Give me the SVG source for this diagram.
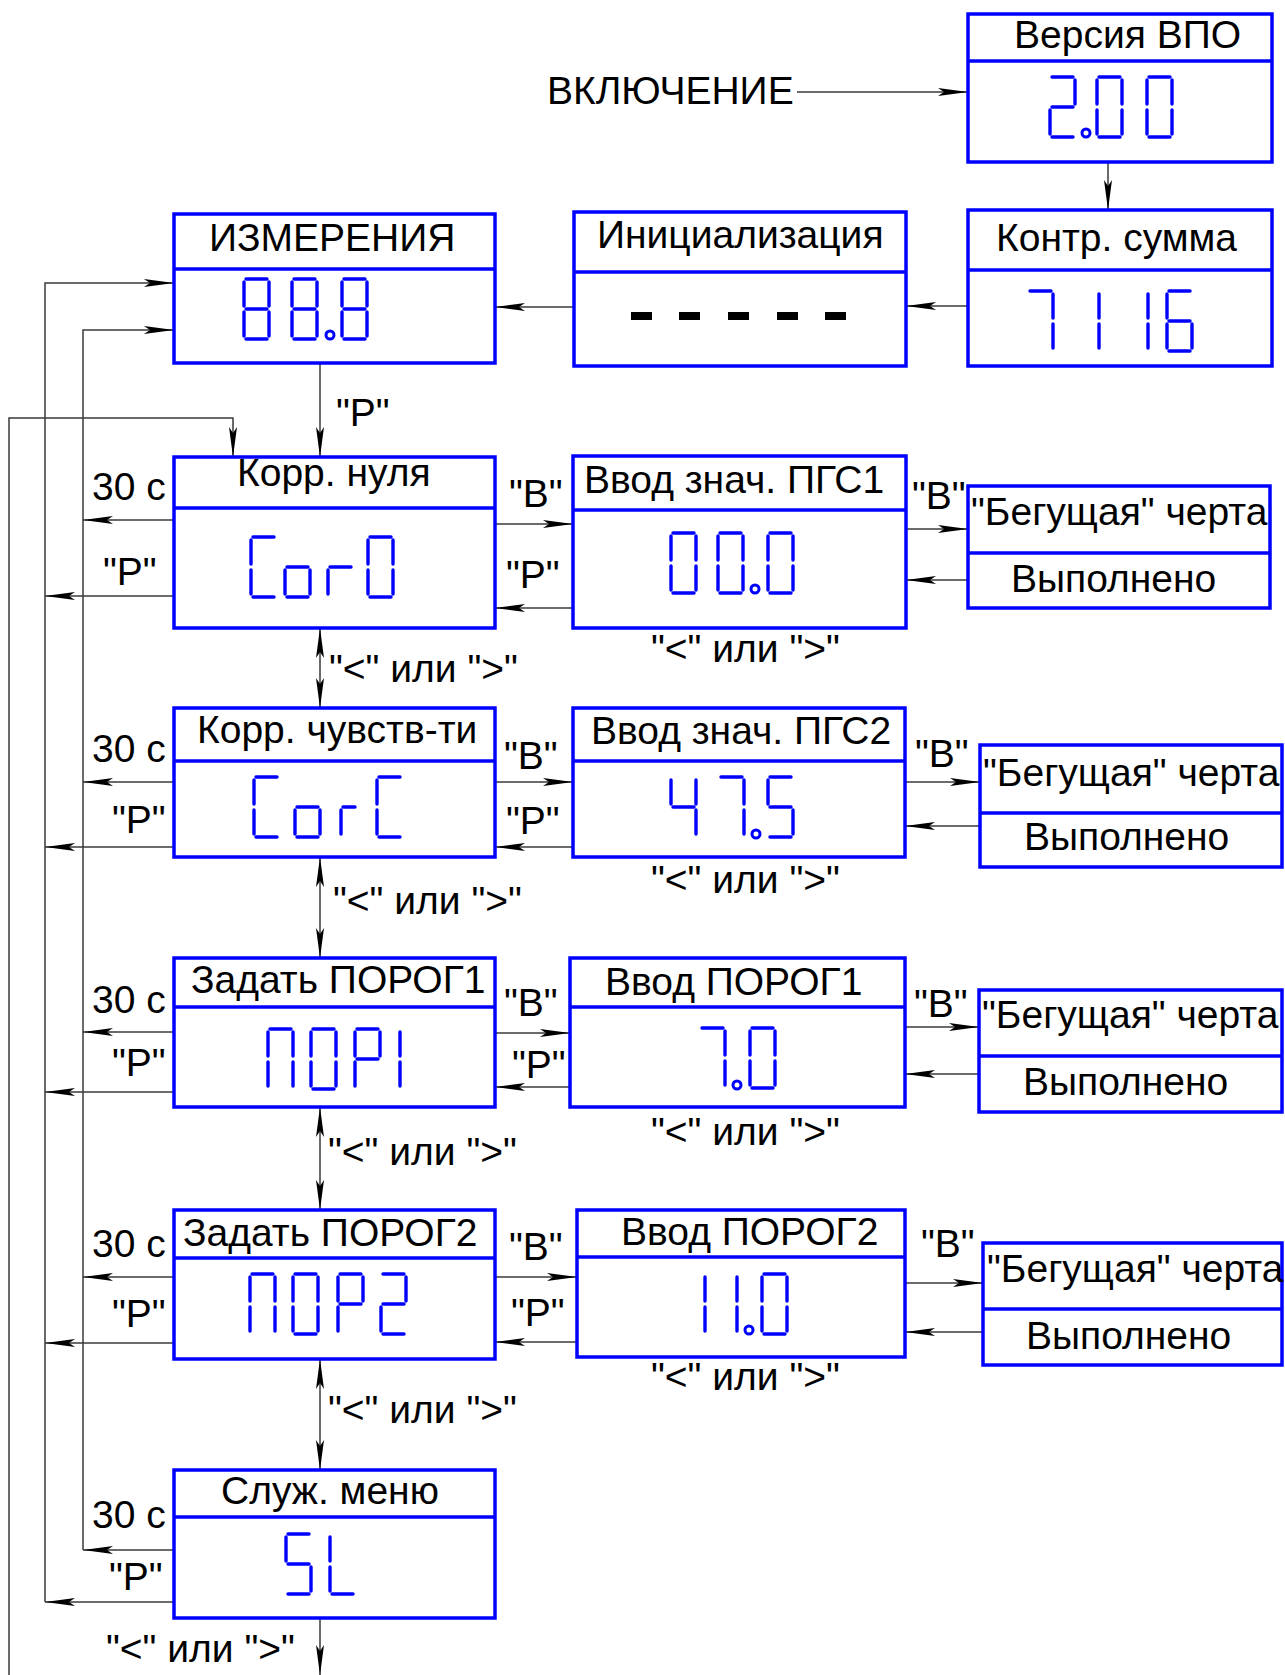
<svg xmlns="http://www.w3.org/2000/svg" width="1285" height="1675" viewBox="0 0 1285 1675">
<style>
.box{fill:#fff;stroke:#0000ff;stroke-width:3.5}
.dv{stroke:#0000ff;stroke-width:3.5}
.t{font-family:"Liberation Sans",Arial,sans-serif;font-size:39px;fill:#000}
.sg{stroke:#0000ff;stroke-width:3.4;stroke-linecap:round;fill:none}
.dot{fill:#fff;stroke:#0000ff;stroke-width:3}
.c{stroke:#3a3a3a;stroke-width:1.5;fill:none}
.a{marker-end:url(#ah)}
.aa{marker-start:url(#ah);marker-end:url(#ah)}
.dash{fill:#000}
</style>
<defs>
<marker id="ah" markerUnits="userSpaceOnUse" markerWidth="32" markerHeight="12" viewBox="0 0 32 12" refX="30" refY="6" orient="auto-start-reverse"><path d="M0,2 L30,6 L0,10 L6,6 Z" fill="#000"/></marker>
<line id="sa" x1="2" y1="0" x2="23" y2="0"/>
<line id="sb" x1="25" y1="3" x2="25" y2="27"/>
<line id="sc" x1="25" y1="33" x2="25" y2="57"/>
<line id="sd" x1="2" y1="60" x2="23" y2="60"/>
<line id="se" x1="0" y1="33" x2="0" y2="57"/>
<line id="sf" x1="0" y1="3" x2="0" y2="27"/>
<line id="sg" x1="2" y1="30" x2="23" y2="30"/>
<line id="sgn" x1="2" y1="30" x2="14" y2="30"/>
<g id="g0" class="sg"><use href="#sa"/><use href="#sb"/><use href="#sc"/><use href="#sd"/><use href="#se"/><use href="#sf"/></g>
<g id="g1" class="sg"><use href="#sb"/><use href="#sc"/></g>
<g id="g2" class="sg"><use href="#sa"/><use href="#sb"/><use href="#sg"/><use href="#se"/><use href="#sd"/></g>
<g id="g4" class="sg"><use href="#sf"/><use href="#sg"/><use href="#sb"/><use href="#sc"/></g>
<g id="g5" class="sg"><use href="#sa"/><use href="#sf"/><use href="#sg"/><use href="#sc"/><use href="#sd"/></g>
<g id="g6" class="sg"><use href="#sa"/><use href="#sf"/><use href="#sg"/><use href="#se"/><use href="#sd"/><use href="#sc"/></g>
<g id="g7" class="sg"><use href="#sa"/><use href="#sb"/><use href="#sc"/></g>
<g id="g8" class="sg"><use href="#sa"/><use href="#sb"/><use href="#sc"/><use href="#sd"/><use href="#se"/><use href="#sf"/><use href="#sg"/></g>
<g id="gC" class="sg"><use href="#sa"/><use href="#sf"/><use href="#se"/><use href="#sd"/></g>
<g id="go" class="sg"><use href="#sg"/><use href="#sc"/><use href="#sd"/><use href="#se"/></g>
<g id="gr" class="sg"><use href="#sg"/><use href="#se"/></g>
<g id="grn" class="sg"><use href="#sgn"/><use href="#se"/></g>
<g id="gPi" class="sg"><use href="#sa"/><use href="#sb"/><use href="#sc"/><use href="#se"/><use href="#sf"/></g>
<g id="gP" class="sg"><use href="#sa"/><use href="#sb"/><use href="#sf"/><use href="#sg"/><use href="#se"/></g>
<g id="gL" class="sg"><use href="#sf"/><use href="#se"/><use href="#sd"/></g>
</defs>

<g id="connectors">
<path class="c a" d="M797,92 H968"/>
<path class="c a" d="M1108,162 V210"/>
<path class="c a" d="M968,306 H906"/>
<path class="c a" d="M574,307 H495"/>
<path class="c a" d="M45,1602 V283 H174"/>
<path class="c a" d="M83,1550 V330 H174"/>
<path class="c a" d="M9,1675 V418 H233 V457"/>
<path class="c a" d="M320,363 V457"/>
<path class="c a" d="M174,520 H83"/>
<path class="c a" d="M174,596 H45"/>
<path class="c a" d="M495,524 H573"/>
<path class="c a" d="M573,608 H495"/>
<path class="c a" d="M906,529 H968"/>
<path class="c a" d="M968,580 H906"/>
<path class="c aa" d="M320,628 V708"/>
<path class="c a" d="M174,782 H83"/>
<path class="c a" d="M174,847 H45"/>
<path class="c a" d="M495,782 H573"/>
<path class="c a" d="M573,847 H495"/>
<path class="c a" d="M905,782 H980"/>
<path class="c a" d="M980,826 H905"/>
<path class="c aa" d="M320,857 V958"/>
<path class="c a" d="M174,1032 H83"/>
<path class="c a" d="M174,1092 H45"/>
<path class="c a" d="M495,1033 H570"/>
<path class="c a" d="M570,1087 H495"/>
<path class="c a" d="M905,1027 H979"/>
<path class="c a" d="M979,1074 H905"/>
<path class="c aa" d="M320,1107 V1210"/>
<path class="c a" d="M174,1277 H83"/>
<path class="c a" d="M174,1343 H45"/>
<path class="c a" d="M495,1277 H577"/>
<path class="c a" d="M577,1342 H495"/>
<path class="c a" d="M905,1283 H983"/>
<path class="c a" d="M983,1332 H905"/>
<path class="c aa" d="M320,1359 V1470"/>
<path class="c a" d="M174,1550 H83"/>
<path class="c a" d="M174,1602 H45"/>
<path class="c a" d="M320,1618 V1675"/>
</g>

<g id="labels">
<text class="t" x="547" y="104">ВКЛЮЧЕНИЕ</text>
<text class="t" x="336" y="426">"Р"</text>
<text class="t" x="92" y="500">30 с</text>
<text class="t" x="103" y="585">"Р"</text>
<text class="t" x="509" y="507">"В"</text>
<text class="t" x="506" y="588">"Р"</text>
<text class="t" x="912" y="509">"В"</text>
<text class="t" x="329" y="682">"&lt;" или "&gt;"</text>
<text class="t" x="651" y="662">"&lt;" или "&gt;"</text>
<text class="t" x="92" y="762">30 с</text>
<text class="t" x="112" y="833">"Р"</text>
<text class="t" x="504" y="769">"В"</text>
<text class="t" x="506" y="834">"Р"</text>
<text class="t" x="915" y="767">"В"</text>
<text class="t" x="333" y="914">"&lt;" или "&gt;"</text>
<text class="t" x="651" y="893">"&lt;" или "&gt;"</text>
<text class="t" x="92" y="1013">30 с</text>
<text class="t" x="112" y="1076">"Р"</text>
<text class="t" x="504" y="1016">"В"</text>
<text class="t" x="512" y="1078">"Р"</text>
<text class="t" x="914" y="1017">"В"</text>
<text class="t" x="328" y="1165">"&lt;" или "&gt;"</text>
<text class="t" x="651" y="1145">"&lt;" или "&gt;"</text>
<text class="t" x="92" y="1257">30 с</text>
<text class="t" x="112" y="1327">"Р"</text>
<text class="t" x="509" y="1260">"В"</text>
<text class="t" x="511" y="1326">"Р"</text>
<text class="t" x="921" y="1257">"В"</text>
<text class="t" x="328" y="1423">"&lt;" или "&gt;"</text>
<text class="t" x="651" y="1390">"&lt;" или "&gt;"</text>
<text class="t" x="92" y="1528">30 с</text>
<text class="t" x="109" y="1590">"Р"</text>
<text class="t" x="106" y="1662">"&lt;" или "&gt;"</text>
</g>

<g id="n-version">
<rect class="box" x="968" y="14" width="304" height="148"/>
<line class="dv" x1="968" y1="61" x2="1272" y2="61"/>
<text class="t" x="1014" y="48">Версия ВПО</text>
<use href="#g2" x="1050" y="77"/>
<circle class="dot" cx="1086" cy="133" r="4"/>
<use href="#g0" x="1097" y="77"/>
<use href="#g0" x="1147" y="77"/>
</g>

<g id="n-checksum">
<rect class="box" x="968" y="210" width="304" height="156"/>
<line class="dv" x1="968" y1="270" x2="1272" y2="270"/>
<text class="t" x="996" y="251">Контр. сумма</text>
<use href="#g7" x="1028" y="291"/>
<use href="#g1" x="1074" y="291"/>
<use href="#g1" x="1123" y="291"/>
<use href="#g6" x="1167" y="291"/>
</g>

<g id="n-init">
<rect class="box" x="574" y="212" width="332" height="154"/>
<line class="dv" x1="574" y1="272" x2="906" y2="272"/>
<text class="t" x="597" y="248">Инициализация</text>
<rect class="dash" x="631" y="312" width="21" height="8"/>
<rect class="dash" x="679" y="312" width="21" height="8"/>
<rect class="dash" x="728" y="312" width="21" height="8"/>
<rect class="dash" x="777" y="312" width="21" height="8"/>
<rect class="dash" x="825" y="312" width="21" height="8"/>
</g>

<g id="n-measure">
<rect class="box" x="174" y="214" width="321" height="149"/>
<line class="dv" x1="174" y1="269" x2="495" y2="269"/>
<text class="t" x="209" y="251">ИЗМЕРЕНИЯ</text>
<use href="#g8" x="244" y="279"/>
<use href="#g8" x="292" y="279"/>
<circle class="dot" cx="330" cy="335" r="4"/>
<use href="#g8" x="342" y="279"/>
</g>

<g id="n-zero">
<rect class="box" x="174" y="457" width="321" height="171"/>
<line class="dv" x1="174" y1="508" x2="495" y2="508"/>
<text class="t" x="237" y="486">Корр. нуля</text>
<use href="#gC" x="251" y="537"/>
<use href="#go" x="285" y="537"/>
<use href="#gr" x="328" y="537"/>
<use href="#g0" x="368" y="537"/>
</g>

<g id="n-pgs1">
<rect class="box" x="573" y="456" width="333" height="172"/>
<line class="dv" x1="573" y1="510" x2="906" y2="510"/>
<text class="t" x="584" y="493">Ввод знач. ПГС1</text>
<use href="#g0" x="671" y="533"/>
<use href="#g0" x="718" y="533"/>
<circle class="dot" cx="755" cy="589" r="4"/>
<use href="#g0" x="768" y="533"/>
</g>

<g id="n-run1">
<rect class="box" x="968" y="486" width="302" height="122"/>
<line class="dv" x1="968" y1="553" x2="1270" y2="553"/>
<text class="t" x="971" y="525">"Бегущая" черта</text>
<text class="t" x="1011" y="592">Выполнено</text>
</g>

<g id="n-sens">
<rect class="box" x="174" y="708" width="321" height="149"/>
<line class="dv" x1="174" y1="761" x2="495" y2="761"/>
<text class="t" x="197" y="743">Корр. чувств-ти</text>
<use href="#gC" x="254" y="777"/>
<use href="#go" x="295" y="777"/>
<use href="#grn" x="341" y="777"/>
<use href="#gC" x="377" y="777"/>
</g>

<g id="n-pgs2">
<rect class="box" x="573" y="708" width="332" height="149"/>
<line class="dv" x1="573" y1="761" x2="905" y2="761"/>
<text class="t" x="591" y="744">Ввод знач. ПГС2</text>
<use href="#g4" x="671" y="777"/>
<use href="#g7" x="719" y="777"/>
<circle class="dot" cx="756" cy="834" r="4"/>
<use href="#g5" x="768" y="777"/>
</g>

<g id="n-run2">
<rect class="box" x="980" y="745" width="302" height="122"/>
<line class="dv" x1="980" y1="813" x2="1282" y2="813"/>
<text class="t" x="983" y="786">"Бегущая" черта</text>
<text class="t" x="1024" y="850">Выполнено</text>
</g>

<g id="n-thr1">
<rect class="box" x="174" y="958" width="321" height="149"/>
<line class="dv" x1="174" y1="1007" x2="495" y2="1007"/>
<text class="t" x="191" y="993">Задать ПОРОГ1</text>
<use href="#gPi" x="268" y="1029"/>
<use href="#g0" x="311" y="1029"/>
<use href="#gP" x="355" y="1029"/>
<use href="#g1" x="375" y="1029"/>
</g>

<g id="n-thr1in">
<rect class="box" x="570" y="958" width="335" height="149"/>
<line class="dv" x1="570" y1="1007" x2="905" y2="1007"/>
<text class="t" x="605" y="995">Ввод ПОРОГ1</text>
<use href="#g7" x="700" y="1028"/>
<circle class="dot" cx="737" cy="1085" r="4"/>
<use href="#g0" x="750" y="1028"/>
</g>

<g id="n-run3">
<rect class="box" x="979" y="990" width="303" height="122"/>
<line class="dv" x1="979" y1="1056" x2="1282" y2="1056"/>
<text class="t" x="982" y="1028">"Бегущая" черта</text>
<text class="t" x="1023" y="1095">Выполнено</text>
</g>

<g id="n-thr2">
<rect class="box" x="174" y="1210" width="321" height="149"/>
<line class="dv" x1="174" y1="1258" x2="495" y2="1258"/>
<text class="t" x="183" y="1246">Задать ПОРОГ2</text>
<use href="#gPi" x="250" y="1274"/>
<use href="#g0" x="293" y="1274"/>
<use href="#gP" x="338" y="1274"/>
<use href="#g2" x="381" y="1274"/>
</g>

<g id="n-thr2in">
<rect class="box" x="577" y="1210" width="328" height="147"/>
<line class="dv" x1="577" y1="1257" x2="905" y2="1257"/>
<text class="t" x="621" y="1245">Ввод ПОРОГ2</text>
<use href="#g1" x="680" y="1274"/>
<use href="#g1" x="712" y="1274"/>
<circle class="dot" cx="749" cy="1330" r="4"/>
<use href="#g0" x="762" y="1274"/>
</g>

<g id="n-run4">
<rect class="box" x="983" y="1243" width="299" height="122"/>
<line class="dv" x1="983" y1="1309" x2="1282" y2="1309"/>
<text class="t" x="987" y="1282">"Бегущая" черта</text>
<text class="t" x="1026" y="1349">Выполнено</text>
</g>

<g id="n-service">
<rect class="box" x="174" y="1470" width="321" height="148"/>
<line class="dv" x1="174" y1="1517" x2="495" y2="1517"/>
<text class="t" x="221" y="1504">Служ. меню</text>
<use href="#g5" x="286" y="1534"/>
<use href="#gL" x="330" y="1534"/>
</g>
</svg>
